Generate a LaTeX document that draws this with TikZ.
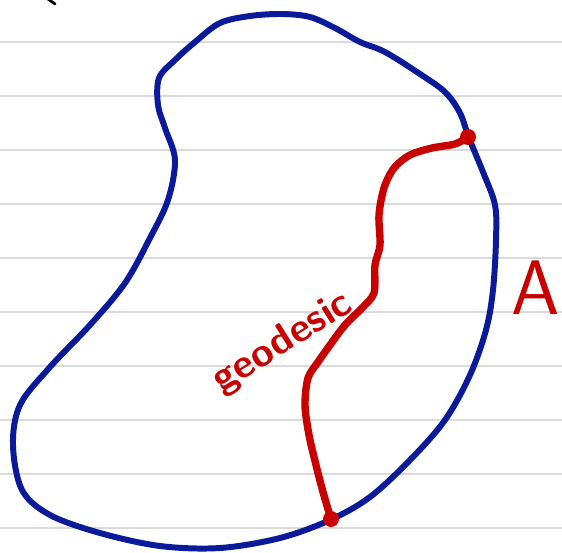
\documentclass[tikz,border=0pt]{standalone}
\usepackage{tikz}
\usetikzlibrary{positioning,calc}
\definecolor{ink}{HTML}{0A1A99}
\definecolor{geo}{HTML}{C80000}
\definecolor{rulec}{HTML}{DADADA}
\tikzset{
  ruled/.style={draw=rulec,line width=1.1pt},
  region/.style={draw=ink,line width=3.4pt,line join=round},
  path geo/.style={draw=geo,line width=4.2pt,line cap=round,line join=round},
  enddot/.style={circle,fill=geo,inner sep=0pt,minimum size=0.32cm},
  scrawl/.style={text=geo,font=\sffamily\bfseries},
}
\begin{document}
\begin{tikzpicture}[x=0.02cm,y=-0.02cm]
  \useasboundingbox (0,0) rectangle (562,552);
  % notebook lines
  \foreach \ry in {42,96,150,204,258,312,366,420,474,528}
    \draw[ruled] (0,\ry) -- (562,\ry);
  % stray pen mark
  \coordinate (tickA) at (48,-1);
  \coordinate (tickB) at (55,4);
  \draw[line width=1.6pt,line cap=round] (tickA) -- (tickB);
  % the region A
  \draw[region] plot[smooth cycle,tension=0.55] coordinates {
    (195,42) (220,23) (250,16) (282,14) (310,17) (335,28) (360,42) (385,52)
    (420,74) (445,92) (460,113) (469,138) (483,172) (495,205) (496,240)
    (493,290) (486,330) (470,375) (445,420) (410,460) (370,497) (330,520)
    (280,538) (220,548) (160,546) (100,533) (50,515) (22,490) (13,445)
    (20,405) (50,367) (90,325) (125,283) (150,238) (168,200) (175,160)
    (165,128) (158,105) (159,78) (175,60)};
  % end points
  \coordinate (top) at (468,137);
  \coordinate (bot) at (331,519);
  % the geodesic
  \draw[path geo] plot[smooth,tension=0.5] coordinates {
    (top) (455,144) (432,148) (410,155) (394,168) (384,188) (379,215)
    (380,245) (375,265) (374,293) (362,308) (345,325) (330,345) (318,362)
    (308,378) (305,405) (309,435) (316,465) (323,492) (bot)};
  \node[enddot] (topdot) at (top) {};
  \node[enddot] (botdot) at (bot) {};
  % labels
  \node[scrawl,rotate=32,font=\sffamily\bfseries\fontsize{23}{25}\selectfont] (glabel) at (283,343) {geodesic};
  \node[scrawl,font=\sffamily\fontsize{44}{46}\selectfont] (alabel) at (536,288) {A};
\end{tikzpicture}
\end{document}
